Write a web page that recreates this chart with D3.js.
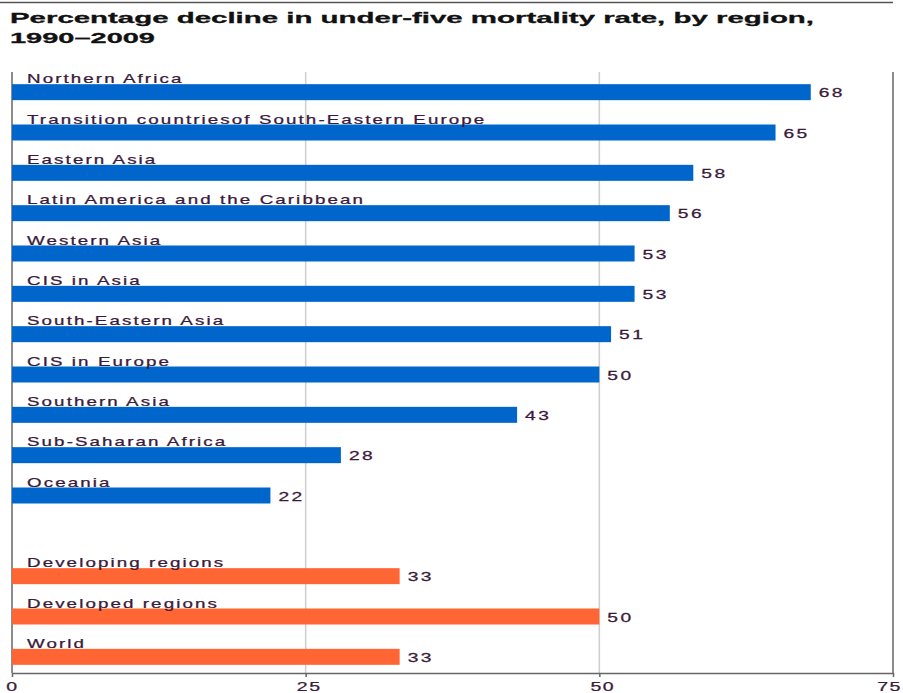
<!DOCTYPE html>
<html>
<head>
<meta charset="utf-8">
<script src="https://cdn.jsdelivr.net/npm/d3@7"></script>
<style>
  html, body { margin: 0; padding: 0; background: #fff; }
  svg { display: block; }
</style>
</head>
<body>
<svg id="chart" width="903" height="693"></svg>
<script>
// Regions and their percentage decline in under-five mortality, 1990–2009
const regions = [
  "Northern Africa",
  "Transition countriesof South-Eastern Europe",
  "Eastern Asia",
  "Latin America and the Caribbean",
  "Western Asia",
  "CIS in Asia",
  "South-Eastern Asia",
  "CIS in Europe",
  "Southern Asia",
  "Sub-Saharan Africa",
  "Oceania"
];
const regionValues = [68, 65, 58, 56, 53, 53, 51, 50, 43, 28, 22];

const aggregates = ["Developing regions", "Developed regions", "World"];
const aggregateValues = [33, 50, 33];

const tickValues = [0, 25, 50, 75];
const titleLines = ["Percentage decline in under-five mortality rate, by region,", "1990\u20132009"];

const BLUE = "#0066cc";
const ORANGE = "#ff6633";
const TEXT = "#3a1a3a";

const svg = d3.select("#chart");

const plotLeft = 12, plotRight = 893, plotTop = 72, axisY = 673;

// rows: regions, one empty spacer row, then the aggregates
const spacer = " ";
const rows = [...regions, spacer, ...aggregates];
const data = [
  ...regions.map((r, i) => ({ name: r, value: regionValues[i], color: BLUE })),
  ...aggregates.map((r, i) => ({ name: r, value: aggregateValues[i], color: ORANGE }))
];

const x = d3.scaleLinear().domain([0, 75]).range([plotLeft, plotRight]);
const y = d3.scaleBand().domain(rows).range([plotTop, 677]).padding(0);
const barH = 16;

// top rule
svg.append("line")
  .attr("x1", 0).attr("x2", plotRight).attr("y1", 2.5).attr("y2", 2.5)
  .attr("stroke", "#555").attr("stroke-width", 1.6);

// title
svg.append("g").selectAll("text")
  .data(titleLines)
  .join("text")
  .attr("x", 10)
  .attr("y", (d, i) => 23 + i * 19.5)
  .attr("font-family", "Liberation Sans, Arial, sans-serif")
  .attr("font-weight", "bold")
  .attr("font-size", 15.5)
  .attr("fill", "#111")
  .attr("stroke", "#111")
  .attr("stroke-width", 0.3)
  .attr("textLength", (d, i) => i === 0 ? 804 : 145)
  .attr("lengthAdjust", "spacingAndGlyphs")
  .text(d => d);

// gridlines at inner ticks
svg.append("g").selectAll("line")
  .data(tickValues.filter(t => t > 0 && t < 75))
  .join("line")
  .attr("x1", d => x(d)).attr("x2", d => x(d))
  .attr("y1", plotTop).attr("y2", axisY)
  .attr("stroke", "#cfcfcf").attr("stroke-width", 1.6);

// left and right frame lines
svg.append("g").selectAll("line")
  .data([0, 75])
  .join("line")
  .attr("x1", d => x(d)).attr("x2", d => x(d))
  .attr("y1", plotTop).attr("y2", axisY)
  .attr("stroke", "#666").attr("stroke-width", 1.5);

// bars
const rowsG = svg.append("g");
rowsG.selectAll("rect")
  .data(data)
  .join("rect")
  .attr("x", x(0))
  .attr("y", d => y(d.name) + y.bandwidth() / 2 - barH / 2)
  .attr("width", d => x(d.value) - x(0))
  .attr("height", barH)
  .attr("fill", d => d.color);

const sx = 1.5;
// category labels above each bar
rowsG.selectAll("text.cat")
  .data(data)
  .join("text")
  .attr("class", "cat")
  .attr("transform", d => `translate(27,${y(d.name) + y.bandwidth() / 2 - barH / 2 - 1}) scale(${sx},1)`)
  .attr("font-family", "Liberation Sans, Arial, sans-serif")
  .attr("font-size", 12.5)
  .attr("letter-spacing", 1.4)
  .attr("fill", TEXT)
  .attr("stroke", TEXT)
  .attr("stroke-width", 0.25)
  .text(d => d.name);

// value labels at bar ends
rowsG.selectAll("text.val")
  .data(data)
  .join("text")
  .attr("class", "val")
  .attr("transform", d => `translate(${x(d.value) + 8},${y(d.name) + y.bandwidth() / 2 + 5}) scale(1.6,1)`)
  .attr("font-family", "Liberation Sans, Arial, sans-serif")
  .attr("font-size", 12)
  .attr("letter-spacing", 1.5)
  .attr("fill", TEXT)
  .attr("stroke", TEXT)
  .attr("stroke-width", 0.25)
  .text(d => d.value);

// bottom axis
const axis = svg.append("g")
  .attr("transform", `translate(0,${axisY})`)
  .call(d3.axisBottom(x).tickValues(tickValues).tickSize(4).tickSizeOuter(0).tickFormat(d3.format("d")));
axis.select(".domain").attr("stroke", "#666").attr("stroke-width", 1.5);
axis.selectAll(".tick line").attr("stroke", "#666").attr("stroke-width", 1.5);
axis.selectAll(".tick text")
  .attr("font-family", "Liberation Sans, Arial, sans-serif")
  .attr("font-size", 13)
  .attr("fill", TEXT)
  .attr("stroke", TEXT)
  .attr("stroke-width", 0.25)
  .attr("letter-spacing", 1)
  .attr("y", 0)
  .attr("dy", 0)
  .attr("transform", d => `translate(${d === 75 ? -4 : (d === 0 ? 0 : 3)},18) scale(1.5,1)`);
</script>
</body>
</html>
